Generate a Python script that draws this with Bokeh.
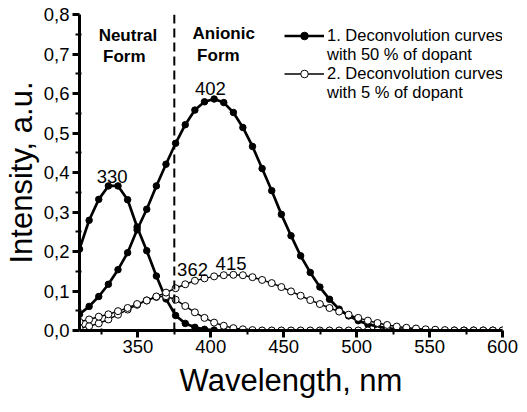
from bokeh.plotting import figure
from bokeh.models import (Range1d, FixedTicker, CustomJSTickFormatter, Span,
                          Legend, LegendItem, ColumnDataSource)
from bokeh.core.properties import value
from bokeh.embed import file_html
from bokeh.resources import INLINE

# ---------------- data ----------------
wavelength = [310.0, 316.6, 323.2, 329.8, 336.4, 343.0, 349.5, 356.1, 362.7, 369.3,
              375.9, 382.5, 389.1, 395.7, 402.3, 408.9, 415.5, 422.0, 428.6, 435.2,
              441.8, 448.4, 455.0, 461.6, 468.2, 474.8, 481.4, 488.0, 494.5, 501.1,
              507.7, 514.3, 520.9, 527.5, 534.1, 540.7, 547.3, 553.9, 560.5, 567.0,
              573.6, 580.2, 586.8, 593.4, 600.0]

# 1. 50 % dopant – neutral form (peak 330)
neutral_50 = [0.206, 0.279, 0.332, 0.366, 0.366, 0.331, 0.262, 0.202, 0.138, 0.080,
              0.038, 0.018, 0.008, 0.003, 0.001] + [0.0] * 30
# 1. 50 % dopant – anionic form (peak 402)
anionic_50 = [0.041, 0.061, 0.086, 0.117, 0.154, 0.197, 0.255, 0.307, 0.366, 0.421,
              0.474, 0.521, 0.558, 0.579, 0.586, 0.577, 0.552, 0.514, 0.466, 0.410,
              0.354, 0.294, 0.240, 0.189, 0.147, 0.110, 0.079, 0.054, 0.037, 0.025,
              0.016, 0.010, 0.006, 0.003, 0.002, 0.001] + [0.0] * 9
# 2. 5 % dopant – neutral form (peak 362)
neutral_5 = [0.006, 0.011, 0.018, 0.028, 0.040, 0.053, 0.065, 0.076, 0.085, 0.087,
             0.078, 0.062, 0.046, 0.032, 0.020, 0.012, 0.006, 0.003, 0.001] + [0.0] * 26
# 2. 5 % dopant – anionic form (peak 415)
anionic_5 = [0.022, 0.028, 0.035, 0.041, 0.049, 0.057, 0.067, 0.076, 0.086, 0.096,
             0.107, 0.117, 0.126, 0.132, 0.137, 0.140, 0.141, 0.140, 0.135, 0.128,
             0.120, 0.110, 0.099, 0.088, 0.077, 0.067, 0.057, 0.048, 0.040, 0.032,
             0.025, 0.019, 0.014, 0.010, 0.007, 0.005, 0.003, 0.002, 0.001] + [0.0] * 6

x_major = [350, 400, 450, 500, 550, 600]
x_minor = [325, 375, 425, 475, 525, 575]
y_major = [0.0, 0.1, 0.2, 0.3, 0.4, 0.5, 0.6, 0.7, 0.8]
y_minor = [0.05, 0.15, 0.25, 0.35, 0.45, 0.55, 0.65, 0.75]

peak_text = ["330", "402", "362", "415"]
peak_x = [332.4, 399.7, 387.5, 413.9]
peak_y = [0.390, 0.613, 0.154, 0.170]

form_text = ["Neutral", "Form", "Anionic", "Form"]
form_x = [343.2, 340.7, 408.9, 405.2]
form_y = [0.748, 0.694, 0.753, 0.697]

divider_x = 375

x_title = "Wavelength, nm"
y_title = "Intensity, a.u."

legend_labels = ["1. Deconvolution curves", "with 50 % of dopant",
                 "2. Deconvolution curves", "with 5 % of dopant"]

FONT = "Liberation Sans"

# ---------------- figure ----------------
p = figure(width=519, height=404, output_backend="svg", toolbar_location=None,
           x_range=Range1d(310, 600), y_range=Range1d(0, 0.8),
           min_border_left=75, min_border_right=17, min_border_top=14,
           min_border_bottom=74)
p.outline_line_color = None
p.grid.visible = False
p.background_fill_color = "white"
p.border_fill_color = "white"

p.xaxis.ticker = FixedTicker(ticks=x_major, minor_ticks=x_minor)
p.yaxis.ticker = FixedTicker(ticks=y_major, minor_ticks=y_minor)
p.yaxis.formatter = CustomJSTickFormatter(code="return tick.toFixed(1).replace('.', ',');")
p.xaxis.axis_label = x_title
p.yaxis.axis_label = y_title

for ax in (p.xaxis[0], p.yaxis[0]):
    ax.axis_line_width = 3
    ax.axis_line_color = "black"
    ax.major_tick_line_width = 3
    ax.minor_tick_line_width = 2
    ax.major_tick_out = 7
    ax.major_tick_in = 0
    ax.minor_tick_out = 4
    ax.minor_tick_in = 2
    ax.major_label_text_font = FONT
    ax.major_label_text_font_size = "18.5px"
    ax.major_label_text_color = "black"
    ax.axis_label_text_font = FONT
    ax.axis_label_text_font_size = "31px"
    ax.axis_label_text_font_style = "normal"
    ax.axis_label_text_color = "black"
p.xaxis.major_label_standoff = 2
p.yaxis.major_label_standoff = 3
p.xaxis.axis_label_standoff = 7
p.yaxis.axis_label_standoff = 2

# dashed divider
p.add_layout(Span(location=divider_x, dimension="height", line_color="black",
                  line_width=2, line_dash="9 5"))

# curves
src = ColumnDataSource(dict(x=wavelength, a=neutral_50, b=anionic_50,
                            c=neutral_5, d=anionic_5))

la = p.line("x", "a", source=src, line_color="black", line_width=2.7)
sa = p.scatter("x", "a", source=src, size=6.5, marker="circle",
               fill_color="black", line_color="black")
lb = p.line("x", "b", source=src, line_color="black", line_width=2.7)
sb = p.scatter("x", "b", source=src, size=6.5, marker="circle",
               fill_color="black", line_color="black")
lc = p.line("x", "c", source=src, line_color="black", line_width=1.5)
sc = p.scatter("x", "c", source=src, size=7, marker="circle",
               fill_color="white", line_color="black", line_width=1)
ld = p.line("x", "d", source=src, line_color="black", line_width=1.5)
sd = p.scatter("x", "d", source=src, size=7, marker="circle",
               fill_color="white", line_color="black", line_width=1)

# annotations
p.text(x=peak_x, y=peak_y, text=peak_text, text_font=value(FONT),
       text_font_size="18.5px", text_align="center", text_baseline="alphabetic",
       text_color="black")
p.text(x=form_x, y=form_y, text=form_text, text_font=value(FONT),
       text_font_size="17px", text_font_style="bold", text_align="center",
       text_baseline="alphabetic", text_color="black")

# legend (4 rows: second line of each entry has an invisible glyph)
blank = p.line(x=[], y=[], line_alpha=0)
legend = Legend(items=[
    LegendItem(label=legend_labels[0], renderers=[la, sa]),
    LegendItem(label=legend_labels[1], renderers=[blank]),
    LegendItem(label=legend_labels[2], renderers=[lc, sc]),
    LegendItem(label=legend_labels[3], renderers=[blank]),
], location=(205, 228))
legend.label_text_font = FONT
legend.label_text_font_size = "16.5px"
legend.label_text_color = "black"
legend.label_height = 19
legend.glyph_height = 19
legend.glyph_width = 40
legend.label_standoff = 3
legend.spacing = 0
legend.padding = 0
legend.margin = 0
legend.background_fill_alpha = 0
legend.border_line_alpha = 0
p.add_layout(legend)

open("out.html", "w").write(file_html(p, INLINE))
